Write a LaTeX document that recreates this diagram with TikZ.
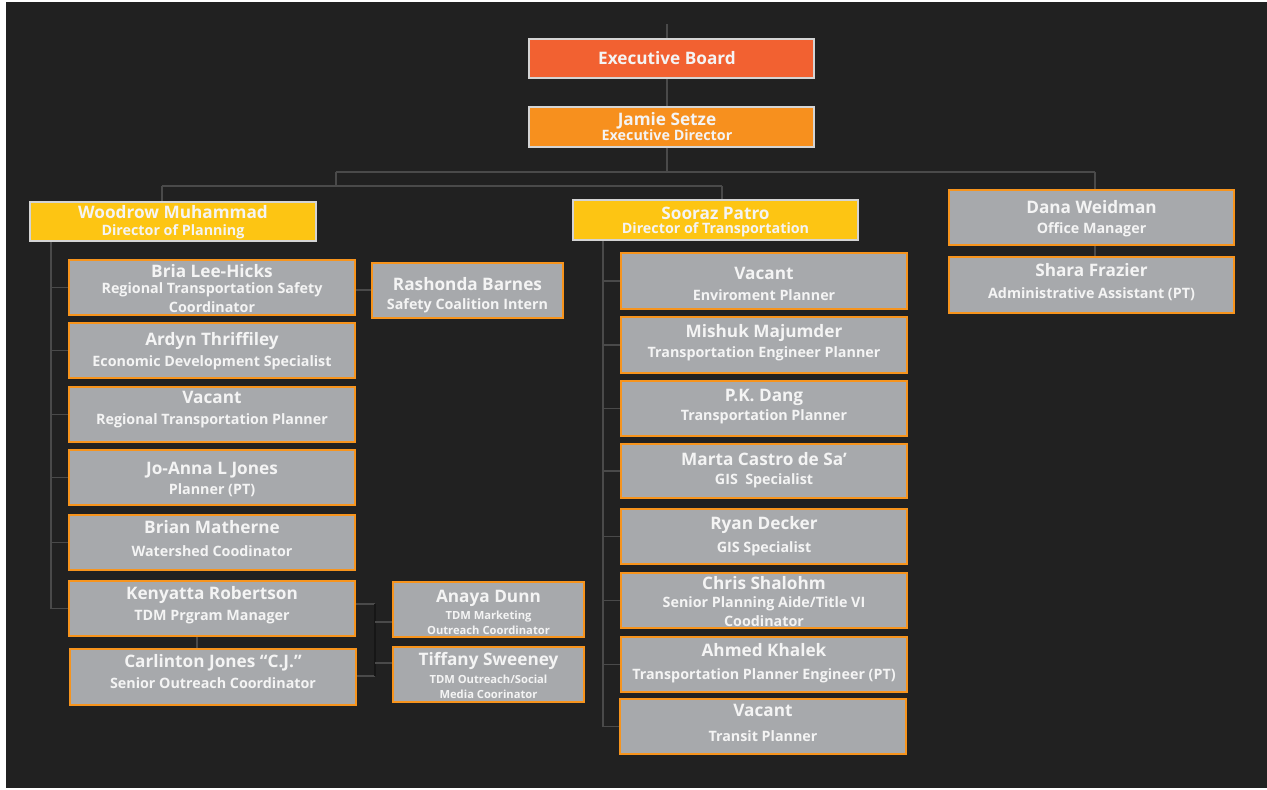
\documentclass[tikz,border=0pt]{standalone}
\usepackage{fontspec}
\setmainfont{Open Sans}
\usetikzlibrary{calc}
\definecolor{bgc}{HTML}{212121}
\definecolor{ebc}{HTML}{F26131}
\definecolor{edc}{HTML}{F7901E}
\definecolor{dirc}{HTML}{FDC513}
\definecolor{grayc}{HTML}{A7A9AC}
\definecolor{orc}{HTML}{F7941D}
\definecolor{lbord}{HTML}{D4D4D4}
\definecolor{linec}{HTML}{4A4A4A}
\definecolor{darkl}{HTML}{161616}
\definecolor{txt}{HTML}{F4F4F4}
\pgfdeclarelayer{bg}
\pgfdeclarelayer{lines}
\pgfsetlayers{bg,lines,main}
\newcommand\card[6]{%
  \node[#2, minimum width={(#5-#3)*1pt}, minimum height={(#6-#4)*1pt}] (#1) at ({(#3+#5)/2},{(#4+#6)/2}) {};}
\newcommand\tline[4]{%
  \node[#2] (#1-#3) at (#1.center |- 0,#3) {#4};}
\begin{document}
\begin{tikzpicture}[x=1pt,y=-1pt,
  topbox/.style={draw=lbord, line width=1.3pt, inner sep=0pt, outer sep=0pt},
  graybox/.style={draw=orc, fill=grayc, line width=1.6pt, inner sep=0pt, outer sep=0pt},
  txtbase/.style={text=txt, inner sep=0pt, text height=0.7em, text depth=0pt, yshift=-2.5pt},
  nm/.style={txtbase, font=\fontsize{17.2}{17.2}\selectfont\bfseries},
  sb/.style={txtbase, font=\fontsize{14.3}{14.3}\selectfont\bfseries},
  sm/.style={txtbase, font=\fontsize{11.2}{11.2}\selectfont\bfseries},
  conn/.style={draw=linec, line width=1.3pt},
  dconn/.style={draw=darkl, line width=1.3pt}]
\useasboundingbox (0,0) rectangle (1267,790);
\begin{pgfonlayer}{bg}
  \fill[white] (0,0) rectangle (1267,790);
  \fill[bgc] (6,2) rectangle (1267,788);
\end{pgfonlayer}
% top
\card{eb}{topbox, fill=ebc}{529}{39}{814}{78}
\card{js}{topbox, fill=edc}{529}{107}{814}{147}
\card{wm}{topbox, fill=dirc}{30}{202}{316}{241}
\card{sp}{topbox, fill=dirc}{573}{200}{858}{240}
\card{dw}{graybox}{949}{190}{1234}{245}
\card{sf}{graybox}{949}{257}{1234}{313}
% planning column
\card{bria}{graybox}{69}{260}{355}{315}
\card{rb}{graybox}{372}{263}{563}{318}
\card{ardyn}{graybox}{69}{323}{355}{378}
\card{vrtp}{graybox}{69}{387}{355}{442}
\card{joanna}{graybox}{69}{450}{355}{505}
\card{brian}{graybox}{69}{515}{355}{570}
\card{ken}{graybox}{69}{581}{355}{636}
\card{cj}{graybox}{70}{649}{356}{705}
\card{anaya}{graybox}{393}{582}{584}{637}
\card{tif}{graybox}{393}{647}{584}{702}
% transportation column
\card{vep}{graybox}{621}{253}{907}{309}
\card{mm}{graybox}{621}{317}{907}{373}
\card{pk}{graybox}{621}{381}{907}{436}
\card{mc}{graybox}{621}{444}{907}{498}
\card{rd}{graybox}{621}{509}{907}{564}
\card{cs}{graybox}{621}{573}{907}{628}
\card{ak}{graybox}{621}{637}{907}{692}
\card{vtp}{graybox}{620}{699}{906}{754}
% texts
\coordinate (ctr) at (667,0);
\node[nm] (eb-t) at (ctr |- 0,58) {Executive Board};
\node[nm] (js-t1) at (ctr |- 0,119) {Jamie Setze};
\node[sb] (js-t2) at (ctr |- 0,134) {Executive Director};
\tline{wm}{nm}{212}{Woodrow Muhammad}
\tline{wm}{sb}{229}{Director of Planning}
\tline{sp}{nm}{213}{Sooraz Patro}
\tline{sp}{sb}{227}{Director of Transportation}
\tline{dw}{nm}{207}{Dana Weidman}
\tline{dw}{sb}{227}{Office Manager}
\tline{sf}{nm}{270}{Shara Frazier}
\tline{sf}{sb}{292}{Administrative Assistant (PT)}
\tline{bria}{nm}{271}{Bria Lee-Hicks}
\tline{bria}{sb}{287}{Regional Transportation Safety}
\tline{bria}{sb}{306}{Coordinator}
\tline{rb}{nm}{284}{Rashonda Barnes}
\tline{rb}{sb}{303}{Safety Coalition Intern}
\tline{ardyn}{nm}{339}{Ardyn Thriffiley}
\tline{ardyn}{sb}{360}{Economic Development Specialist}
\tline{vrtp}{nm}{397}{Vacant}
\tline{vrtp}{sb}{418}{Regional Transportation Planner}
\tline{joanna}{nm}{468}{Jo-Anna L Jones}
\tline{joanna}{sb}{488}{Planner (PT)}
\tline{brian}{nm}{527}{Brian Matherne}
\tline{brian}{sb}{550}{Watershed Coodinator}
\tline{ken}{nm}{593}{Kenyatta Robertson}
\tline{ken}{sb}{614}{TDM Prgram Manager}
\tline{cj}{nm}{661}{Carlinton Jones “C.J.”}
\tline{cj}{sb}{682}{Senior Outreach Coordinator}
\tline{anaya}{nm}{596}{Anaya Dunn}
\tline{anaya}{sm}{613}{TDM Marketing}
\tline{anaya}{sm}{628}{Outreach Coordinator}
\tline{tif}{nm}{659}{Tiffany Sweeney}
\tline{tif}{sm}{677}{TDM Outreach/Social}
\tline{tif}{sm}{692}{Media Coorinator}
\tline{vep}{nm}{273}{Vacant}
\tline{vep}{sb}{294}{Enviroment Planner}
\tline{mm}{nm}{331}{Mishuk Majumder}
\tline{mm}{sb}{351}{Transportation Engineer Planner}
\tline{pk}{nm}{395}{P.K. Dang}
\tline{pk}{sb}{414}{Transportation Planner}
\tline{mc}{nm}{459}{Marta Castro de Sa’}
\tline{mc}{sb}{478}{GIS\ \ Specialist}
\tline{rd}{nm}{523}{Ryan Decker}
\tline{rd}{sb}{546}{GIS Specialist}
\tline{cs}{nm}{583}{Chris Shalohm}
\tline{cs}{sb}{601}{Senior Planning Aide/Title VI}
\tline{cs}{sb}{620}{Coodinator}
\tline{ak}{nm}{650}{Ahmed Khalek}
\tline{ak}{sb}{673}{Transportation Planner Engineer (PT)}
\tline{vtp}{nm}{710}{Vacant}
\tline{vtp}{sb}{735}{Transit Planner}
% junction coordinates
\coordinate (top) at (667,24);
\coordinate (h1L) at (336,172);
\coordinate (h1R) at (1095,172);
\coordinate (h2L) at (162,186);
\coordinate (h2R) at (722,186);
\coordinate (ls) at (51,241);
\coordinate (ts) at (603,240);
\coordinate (kc) at (197,640);
\coordinate (bxt) at (375,604);
\coordinate (bxb) at (375,676);
\coordinate (ta) at (375,622);
\coordinate (tt) at (375,663);
\coordinate (rbt) at (363,290);
\begin{pgfonlayer}{lines}
  \draw[conn] (top) -- (top |- eb.north);
  \draw[conn] (top |- eb.south) -- (top |- js.north);
  \draw[conn] (top |- js.south) -- (top |- h1L);
  \draw[conn] (h1L) -- (h1R);
  \draw[conn] (h1R) -- (h1R |- sf.north);
  \draw[conn] (h1L) -- (h1L |- h2L);
  \draw[conn] (h2L) -- (h2R);
  \draw[conn] (h2L) -- (h2L |- wm.north);
  \draw[conn] (h2R) -- (h2R |- sp.north);
  % planning spine
  \draw[conn] (ls) |- (ken.west);
  \foreach \n in {bria,ardyn,vrtp,joanna,brian}
    \draw[conn] (\n.west -| ls) -- (\n.west);
  \draw[conn] (bria.east |- rbt) -- (rb.west |- rbt);
  \draw[conn] (ken.south -| kc) -- (cj.north -| kc);
  \draw[conn] (ken.east |- bxt) -- (bxt);
  \draw[conn] (cj.east |- bxb) -- (bxb);
  \draw[dconn] (bxt) -- (bxb);
  \draw[conn] (ta) -- (ta -| anaya.west);
  \draw[conn] (tt) -- (tt -| tif.west);
  % transportation spine
  \draw[conn] (ts) |- (vtp.west);
  \foreach \n in {vep,mm,pk,mc,rd,cs,ak}
    \draw[conn] (\n.west -| ts) -- (\n.west);
\end{pgfonlayer}
\end{tikzpicture}
\end{document}
